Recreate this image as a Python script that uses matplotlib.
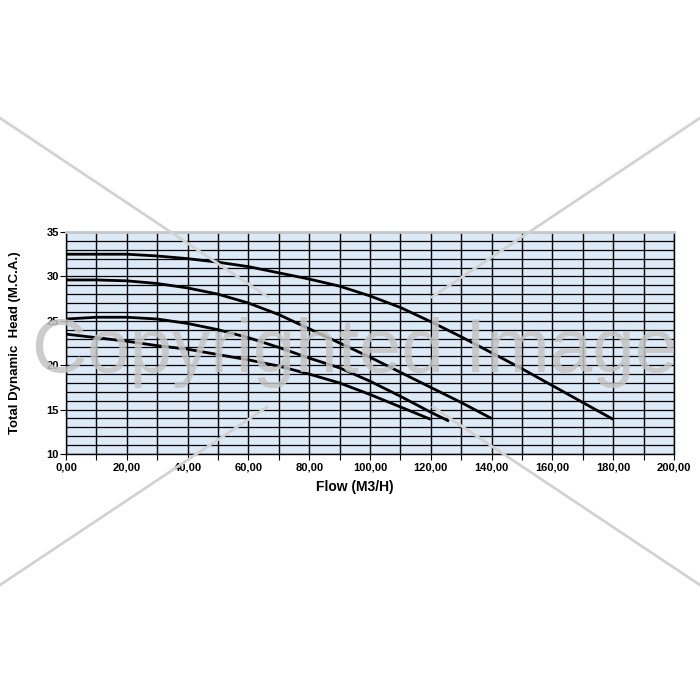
import numpy as np
import matplotlib.pyplot as plt
from matplotlib.lines import Line2D
from matplotlib.ticker import MultipleLocator, FuncFormatter

plt.rcParams['font.family'] = ['Liberation Sans Narrow', 'Liberation Sans', 'DejaVu Sans']

# pump curves: flow (m3/h) vs head (m.c.a.)
flow_a = [0, 10, 20, 30, 40, 50, 60, 70, 80, 90, 100, 110, 120, 130, 140, 150, 160, 170, 180]
head_a = [32.5, 32.5, 32.5, 32.3, 32.0, 31.6, 31.1, 30.4, 29.7, 28.9, 27.8, 26.5, 24.9, 23.2, 21.4, 19.6, 17.7, 15.8, 13.9]

flow_b = [0, 10, 20, 30, 40, 50, 60, 70, 80, 90, 100, 110, 120, 130, 140]
head_b = [29.6, 29.6, 29.5, 29.2, 28.7, 28.0, 27.0, 25.7, 24.1, 22.5, 20.9, 19.2, 17.5, 15.8, 14.0]

flow_c = [0, 10, 20, 30, 40, 50, 60, 70, 80, 90, 100, 110, 120, 126]
head_c = [25.2, 25.4, 25.4, 25.2, 24.7, 24.0, 23.1, 22.0, 20.8, 19.7, 18.2, 16.5, 14.7, 13.7]

flow_d = [0, 10, 20, 30, 40, 50, 60, 70, 80, 90, 100, 110, 120]
head_d = [23.5, 23.1, 22.7, 22.2, 21.8, 21.2, 20.6, 19.9, 19.0, 18.0, 16.7, 15.3, 13.9]

curves = [(flow_a, head_a), (flow_b, head_b), (flow_c, head_c), (flow_d, head_d)]

fig = plt.figure(figsize=(7, 7), dpi=100)
ax = fig.add_axes([66 / 700, 1 - 454 / 700, 608 / 700, 222 / 700])
ax.set_facecolor('#dce9f6')

for fx, hy in curves:
    ax.plot(fx, hy, color='black', lw=2.0, solid_capstyle='butt', zorder=3)

ax.set_xlim(0, 200)
ax.set_ylim(10, 35)
ax.xaxis.set_major_locator(MultipleLocator(20))
ax.xaxis.set_minor_locator(MultipleLocator(10))
ax.yaxis.set_major_locator(MultipleLocator(5))
ax.yaxis.set_minor_locator(MultipleLocator(1))
ax.xaxis.set_major_formatter(FuncFormatter(lambda v, p: f"{v:.2f}".replace('.', ',')))
ax.grid(which='both', axis='x', color='black', lw=1.0, zorder=1)
ax.grid(which='both', axis='y', color='black', lw=0.9, zorder=1)
ax.set_axisbelow(True)

ax.tick_params(axis='x', which='both', length=4, width=0.8, pad=2, labelsize=8)
ax.tick_params(axis='y', which='major', length=4, width=0.8, pad=1, labelsize=8)
ax.tick_params(axis='y', which='minor', length=0)
for lab in ax.get_xticklabels() + ax.get_yticklabels():
    lab.set_fontweight('bold')

ax.spines['top'].set_color('#c4c8cc')
ax.spines['top'].set_linewidth(2.0)
ax.spines['left'].set_linewidth(1.0)
ax.spines['bottom'].set_linewidth(1.0)
ax.spines['right'].set_linewidth(1.0)

fig.text(355 / 700, 1 - 487 / 700, 'Flow (M3/H)', ha='center', va='center',
         fontsize=10, fontweight='bold', family=['Liberation Sans', 'DejaVu Sans'])
fig.text(15 / 700, 1 - 343 / 700, 'Total Dynamic  Head (M.C.A.)', ha='center', va='center',
         rotation=90, fontsize=9.5, fontweight='bold', family=['Liberation Sans', 'DejaVu Sans'])

# watermark
wm = '#d2d2d2'
segs = [((0, 118), (268, 297)), ((433, 407), (700, 585)),
        ((700, 118), (432, 297)), ((267, 407), (0, 585))]
for (x0, y0), (x1, y1) in segs:
    fig.add_artist(Line2D([x0 / 700, x1 / 700], [1 - y0 / 700, 1 - y1 / 700],
                          transform=fig.transFigure, color=wm, lw=2.0, zorder=5))
fig.text(355 / 700, 1 - 352 / 700, 'Copyrighted Image', ha='center', va='center',
         fontsize=55, color='#c4c4c4', alpha=0.85, zorder=6,
         family=['Liberation Sans', 'DejaVu Sans'])

fig.savefig('out.png', dpi=100, facecolor='white')
